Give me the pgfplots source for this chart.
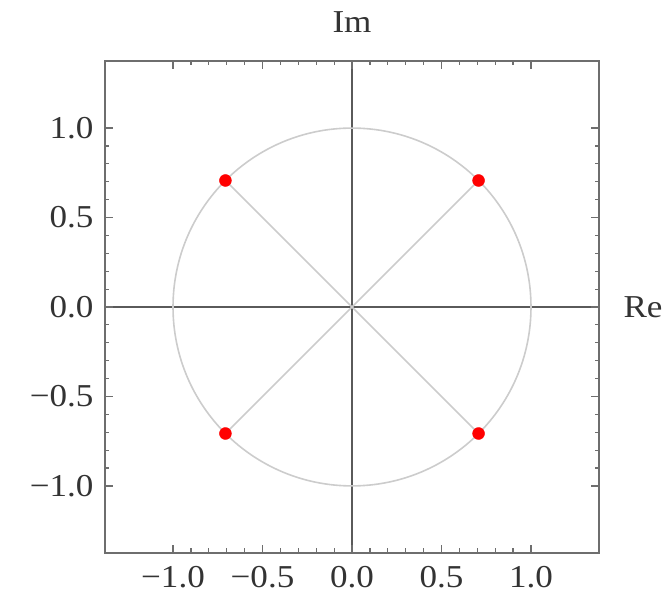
\documentclass[border=0pt]{standalone}
\usepackage{fontspec}
\setmainfont{Liberation Serif}
\newfontfamily\labelfont[FakeStretch=1.1]{Liberation Serif}
\usepackage{pgfplots}
\pgfplotsset{compat=1.18}

\definecolor{framegray}{HTML}{6E6E6E}
\definecolor{axisgray}{HTML}{5A5A5A}
\definecolor{curvegray}{HTML}{CCCCCC}

\begin{document}
\begin{tikzpicture}
\begin{axis}[
  name=ax,
  scale only axis,
  width=494bp, height=492bp,
  xmin=-1.38, xmax=1.38,
  ymin=-1.375, ymax=1.375,
  axis line style={framegray, line width=1.6bp},
  tick align=inside,
  xtick={-1,-0.5,0,0.5,1},
  ytick={-1,-0.5,0,0.5,1},
  xticklabels={−1.0,−0.5,0.0,0.5,1.0},
  yticklabels={−1.0,−0.5,0.0,0.5,1.0},
  minor tick num=4,
  major tick length=8bp,
  minor tick length=4.5bp,
  every tick/.style={framegray, line width=1.2bp},
  ticklabel style={font=\labelfont\fontsize{32}{36}\selectfont, text=black!80},
  xticklabel style={yshift=-10bp},
  yticklabel style={xshift=-8bp},
  extra x ticks={0}, extra y ticks={0},
  extra x tick labels={}, extra y tick labels={},
  extra tick style={grid=major, major grid style={axisgray, line width=1.6bp}},
  clip=false,
]
  % unit circle
  \draw[curvegray, line width=1.6bp] (axis cs:0,0) circle [radius=1];
  % rays from the origin to the roots
  \addplot[curvegray, line width=1.6bp] coordinates {(-0.7071,-0.7071) (0.7071,0.7071)};
  \addplot[curvegray, line width=1.6bp] coordinates {(-0.7071,0.7071) (0.7071,-0.7071)};
  % fourth roots of -1
  \addplot[only marks, mark=*, mark size=6bp, red, mark options={draw=red, fill=red}]
    coordinates {(0.7071,0.7071) (-0.7071,0.7071) (-0.7071,-0.7071) (0.7071,-0.7071)};
  \node[font=\labelfont\fontsize{32}{36}\selectfont, text=black!80] at ([yshift=39bp]rel axis cs:0.5,1) {Im};
  \node[font=\labelfont\fontsize{32}{36}\selectfont, text=black!80] at ([xshift=44bp]rel axis cs:1,0.5) {Re};
\end{axis}
\pgfresetboundingbox
\path ([shift={(-105bp,-45bp)}]ax.south west) rectangle ([shift={(67bp,61bp)}]ax.north east);
\end{tikzpicture}
\end{document}
